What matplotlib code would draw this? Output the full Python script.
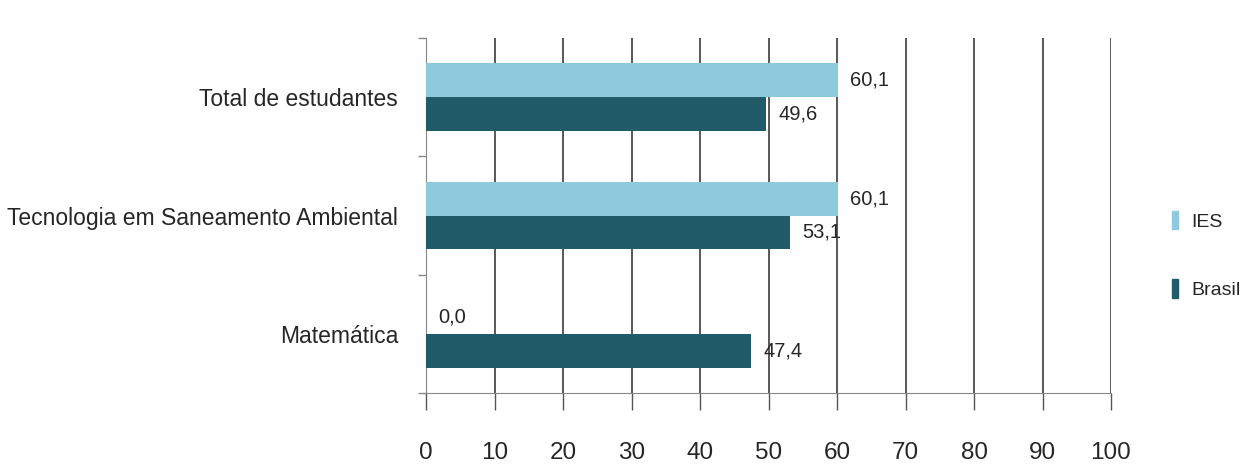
import numpy as np
import matplotlib
matplotlib.use("Agg")
import matplotlib.pyplot as plt
from matplotlib.patches import Patch

plt.rcParams['font.family'] = ['Liberation Sans', 'DejaVu Sans']

# dados
categorias = ['Total de estudantes', 'Tecnologia em Saneamento Ambiental', 'Matemática']
ies = [60.1, 60.1, 0.0]
brasil = [49.6, 53.1, 47.4]
series = ['IES', 'Brasil']
cor_ies = '#8FCADC'
cor_brasil = '#215A69'
xticks = list(range(0, 101, 10))

fig = plt.figure(figsize=(12.5, 4.71), dpi=100)
ax = fig.add_axes([0.3408, 0.1656, 0.5480, 0.7537])

y = np.arange(len(categorias))
h = 0.287
b1 = ax.barh(y - h / 2, ies, height=h, color=cor_ies, zorder=3)
b2 = ax.barh(y + h / 2, brasil, height=h, color=cor_brasil, zorder=3)

fmt = lambda v: f'{v:.1f}'.replace('.', ',')
for b in (b1, b2):
    ax.bar_label(b, fmt=fmt, padding=9, fontsize=14.5, color='#262626')

ax.set_xlim(0, 100)
ax.set_ylim(len(categorias) - 0.5, -0.5)
ax.set_xticks(xticks)
ax.set_xticklabels([str(t) for t in xticks], fontsize=17.5, color='#262626')
ax.set_yticks(y)
ax.set_yticklabels(categorias, fontsize=16.5, color='#262626')
ax.set_yticks(np.arange(-0.5, len(categorias)), minor=True)

ax.tick_params(axis='x', length=12, width=1, color='#555555', pad=23)
ax.tick_params(axis='y', which='major', length=0, pad=20)
ax.tick_params(axis='y', which='minor', length=6, width=1, color='#888888')

ax.grid(axis='x', color='#3c3c3c', linewidth=1.2, zorder=0)
ax.set_axisbelow(True)
for s in ['top', 'right']:
    ax.spines[s].set_visible(False)
ax.spines['left'].set_color('#888888')
ax.spines['bottom'].set_color('#888888')

handles = [Patch(color=cor_ies), Patch(color=cor_brasil)]
fig.legend(handles, series, loc='center left', bbox_to_anchor=(0.9376, 0.4586),
           frameon=False, fontsize=14, handlelength=0.3, handleheight=1.1,
           handletextpad=0.7, labelspacing=2.5, borderpad=0, borderaxespad=0,
           labelcolor='#262626')

fig.savefig('out.png', dpi=100)
